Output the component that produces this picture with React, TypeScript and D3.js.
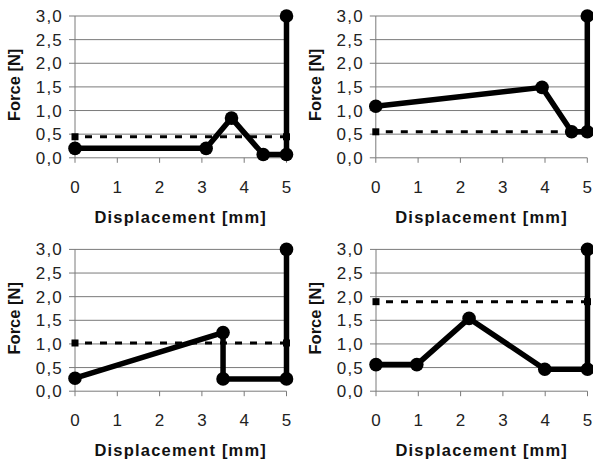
import React from "react";
import * as d3 from "d3";

// four force/displacement panels
const panelAX = [0, 3.1, 3.7, 4.45, 5, 5];
const panelAY = [0.2, 0.2, 0.84, 0.07, 0.07, 3.0];
const panelALevel = 0.445;

const panelBX = [0, 3.93, 4.63, 5, 5];
const panelBY = [1.09, 1.49, 0.55, 0.55, 3.0];
const panelBLevel = 0.55;

const panelCX = [0, 3.5, 3.5, 5, 5];
const panelCY = [0.275, 1.24, 0.26, 0.26, 3.0];
const panelCLevel = 1.02;

const panelDX = [0, 0.965, 2.2, 3.99, 5, 5];
const panelDY = [0.563, 0.563, 1.54, 0.465, 0.465, 3.0];
const panelDLevel = 1.894;

const xTicks = [0, 1, 2, 3, 4, 5];
const yTicks = [0, 0.5, 1, 1.5, 2, 2.5, 3];
const xTitle = "Displacement [mm]";
const yTitle = "Force [N]";

const W = 593;
const H = 462;
const plotW = 211.5;
const plotH = 141.8;

const fmt = (v: number) => d3.format(".1f")(v).replace(".", ",");

type PanelProps = {
  left: number;
  top: number;
  xs: number[];
  ys: number[];
  level: number;
};

const Panel = ({ left, top, xs, ys, level }: PanelProps) => {
  const x = d3.scaleLinear().domain([0, 5]).range([left, left + plotW]);
  const y = d3.scaleLinear().domain([0, 3]).range([top + plotH, top]);
  const pts = xs.map((d, i) => [d, ys[i]] as [number, number]);
  const line = d3
    .line<[number, number]>()
    .x((d) => x(d[0]))
    .y((d) => y(d[1]));

  const sq = 7;
  return (
    <g>
      {/* gridlines */}
      {yTicks
        .filter((t) => t > 0)
        .map((t) => (
          <line
            key={"g" + t}
            x1={x(0)}
            x2={x(5)}
            y1={y(t)}
            y2={y(t)}
            stroke="#7a7a7a"
            strokeWidth={1}
          />
        ))}
      {/* axes */}
      <line x1={x(0)} x2={x(0)} y1={y(0)} y2={y(3)} stroke="#7a7a7a" />
      <line x1={x(0)} x2={x(5)} y1={y(0)} y2={y(0)} stroke="#7a7a7a" />
      {yTicks.map((t) => (
        <g key={"y" + t}>
          <line x1={x(0) - 6} x2={x(0)} y1={y(t)} y2={y(t)} stroke="#7a7a7a" />
          <text
            x={x(0) - 12}
            y={y(t) + 6}
            textAnchor="end"
            fontSize={17}
            letterSpacing={1.2}
            fill="#222"
          >
            {fmt(t)}
          </text>
        </g>
      ))}
      {xTicks.map((t) => (
        <g key={"x" + t}>
          <line x1={x(t)} x2={x(t)} y1={y(0)} y2={y(0) + 5} stroke="#7a7a7a" />
          <text
            x={x(t)}
            y={y(0) + 35}
            textAnchor="middle"
            fontSize={17}
            fill="#222"
          >
            {t}
          </text>
        </g>
      ))}
      {/* titles */}
      <text
        x={(x(0) + x(5)) / 2}
        y={y(0) + 65}
        textAnchor="middle"
        fontSize={16.5}
        fontWeight="bold"
        letterSpacing={1.2}
        fill="#111"
      >
        {xTitle}
      </text>
      <text
        transform={`translate(${x(0) - 55},${(y(0) + y(3)) / 2 - 2}) rotate(-90)`}
        textAnchor="middle"
        fontSize={16.5}
        fontWeight="bold"
        fill="#111"
      >
        {yTitle}
      </text>
      {/* dashed level */}
      <line
        x1={x(0)}
        x2={x(5)}
        y1={y(level)}
        y2={y(level)}
        stroke="#000"
        strokeWidth={3}
        strokeDasharray="7,8"
        strokeDashoffset={-10}
      />
      {[0, 5].map((t) => (
        <rect
          key={"s" + t}
          x={x(t) - sq / 2}
          y={y(level) - sq / 2}
          width={sq}
          height={sq}
          fill="#000"
        />
      ))}
      {/* measured curve */}
      <path
        d={line(pts) ?? ""}
        fill="none"
        stroke="#000"
        strokeWidth={5.5}
        strokeLinejoin="round"
      />
      {pts.map((d, i) => (
        <circle key={"c" + i} cx={x(d[0])} cy={y(d[1])} r={6.8} fill="#000" />
      ))}
    </g>
  );
};

export default function App() {
  return (
    <svg
      width={W}
      height={H}
      style={{
        position: "absolute",
        left: 0,
        top: 0,
        background: "#fff",
        fontFamily: "Arial, 'Liberation Sans', sans-serif",
      }}
    >
      <Panel left={75} top={16} xs={panelAX} ys={panelAY} level={panelALevel} />
      <Panel left={375.8} top={16} xs={panelBX} ys={panelBY} level={panelBLevel} />
      <Panel left={75} top={249.4} xs={panelCX} ys={panelCY} level={panelCLevel} />
      <Panel left={376} top={249.4} xs={panelDX} ys={panelDY} level={panelDLevel} />
    </svg>
  );
}
